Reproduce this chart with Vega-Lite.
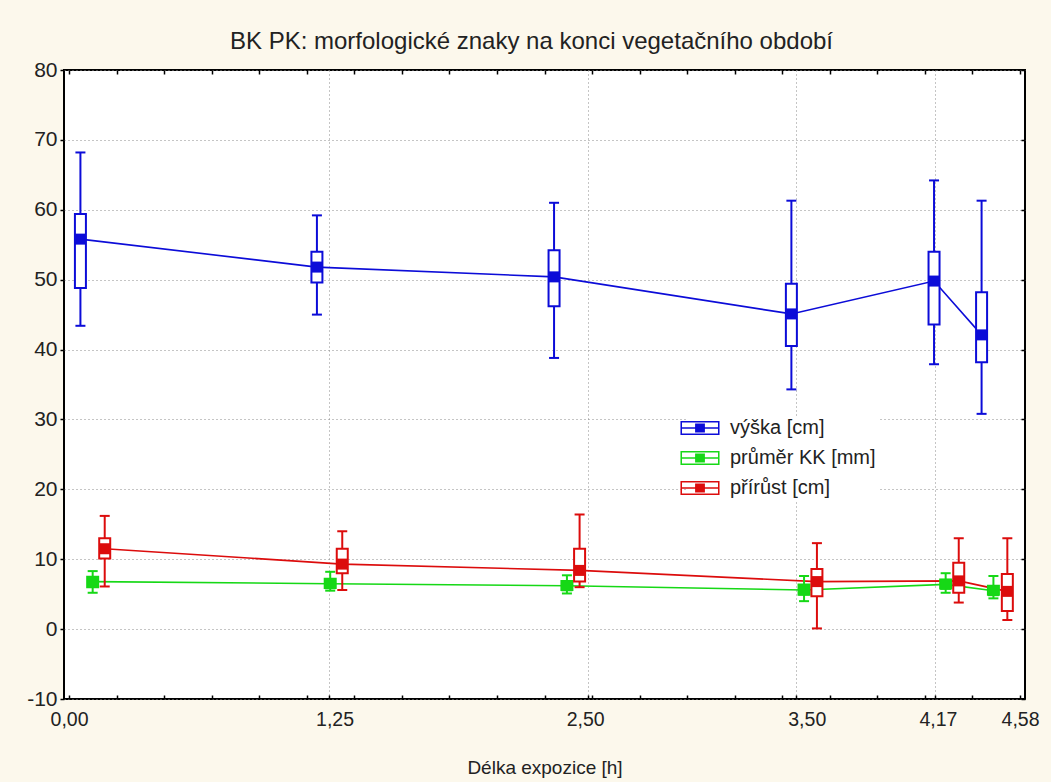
{
  "$schema": "https://vega.github.io/schema/vega-lite/v6.json",
  "width": 961,
  "height": 629,
  "autosize": "none",
  "padding": {"left": 64, "top": 70, "right": 26, "bottom": 83},
  "background": "#fcf8ec",
  "title": {
    "text": "BK PK: morfologické znaky na konci vegetačního období",
    "font": "Liberation Sans",
    "fontSize": 24,
    "fontWeight": "normal",
    "color": "#222222",
    "offset": 5,
    "dx": -13
  },
  "config": {
    "view": {"fill": "white", "stroke": "#000000", "strokeWidth": 2},
    "font": "Liberation Sans"
  },
  "resolve": {"legend": {"color": "independent"}},
  "data": {
    "values": [
      {"s": "výška [cm]", "x": 0.055, "lo": 43.4, "q1": 48.8, "m": 55.8, "q3": 59.4, "hi": 68.2},
      {"s": "výška [cm]", "x": 1.194, "lo": 45.0, "q1": 49.6, "m": 51.8, "q3": 54.0, "hi": 59.2},
      {"s": "výška [cm]", "x": 2.336, "lo": 38.8, "q1": 46.2, "m": 50.4, "q3": 54.2, "hi": 61.0},
      {"s": "výška [cm]", "x": 3.479, "lo": 34.3, "q1": 40.5, "m": 45.1, "q3": 49.4, "hi": 61.3},
      {"s": "výška [cm]", "x": 4.166, "lo": 37.9, "q1": 43.6, "m": 49.8, "q3": 54.0, "hi": 64.2},
      {"s": "výška [cm]", "x": 4.395, "lo": 30.8, "q1": 38.2, "m": 42.1, "q3": 48.2, "hi": 61.3},
      {"s": "průměr KK [mm]", "x": 0.114, "lo": 5.2, "q1": 6.0, "m": 6.8, "q3": 7.5, "hi": 8.3},
      {"s": "průměr KK [mm]", "x": 1.258, "lo": 5.5, "q1": 5.9, "m": 6.5, "q3": 7.2, "hi": 8.2},
      {"s": "průměr KK [mm]", "x": 2.398, "lo": 5.1, "q1": 5.6, "m": 6.2, "q3": 6.9, "hi": 7.7},
      {"s": "průměr KK [mm]", "x": 3.54, "lo": 4.0, "q1": 4.9, "m": 5.6, "q3": 6.4, "hi": 7.6},
      {"s": "průměr KK [mm]", "x": 4.222, "lo": 5.2, "q1": 5.8, "m": 6.4, "q3": 7.1, "hi": 8.0},
      {"s": "průměr KK [mm]", "x": 4.452, "lo": 4.4, "q1": 4.9, "m": 5.5, "q3": 6.2, "hi": 7.6},
      {"s": "přírůst [cm]", "x": 0.172, "lo": 6.1, "q1": 10.1, "m": 11.5, "q3": 13.0, "hi": 16.2},
      {"s": "přírůst [cm]", "x": 1.316, "lo": 5.6, "q1": 8.0, "m": 9.3, "q3": 11.5, "hi": 14.0},
      {"s": "přírůst [cm]", "x": 2.459, "lo": 6.0, "q1": 6.8, "m": 8.4, "q3": 11.5, "hi": 16.4},
      {"s": "přírůst [cm]", "x": 3.602, "lo": 0.1, "q1": 4.7, "m": 6.8, "q3": 8.6, "hi": 12.3},
      {"s": "přírůst [cm]", "x": 4.285, "lo": 3.8, "q1": 5.2, "m": 6.9, "q3": 9.5, "hi": 13.0},
      {"s": "přírůst [cm]", "x": 4.519, "lo": 1.3, "q1": 2.6, "m": 5.4, "q3": 7.9, "hi": 13.0}
    ]
  },
  "encoding": {
    "x": {"field": "x", "type": "quantitative", "axis": null, "scale": {"domain": [0, 4.58], "nice": false, "zero": false}},
    "color": {"field": "s", "type": "nominal", "legend": null,
      "scale": {"domain": ["výška [cm]", "průměr KK [mm]", "přírůst [cm]"], "range": ["#0c0cd8", "#16d816", "#dc0c0c"]}}
  },
  "layer": [
    {
      "mark": {"type": "line", "strokeWidth": 1.6},
      "encoding": {
        "y": {"field": "m", "type": "quantitative", "axis": null, "scale": {"domain": [-10, 80], "nice": false, "zero": false}},
        "order": {"field": "x", "type": "quantitative"}
      }
    },
    {
      "mark": {"type": "rule", "strokeWidth": 2},
      "encoding": {
        "x": {"field": "x", "type": "quantitative",
          "axis": {
            "orient": "bottom",
            "values": [0, 0.229, 0.458, 0.687, 0.916, 1.145, 1.25, 1.374, 1.603, 1.832, 2.061, 2.29, 2.5, 2.519, 2.748, 2.977, 3.206, 3.435, 3.5, 3.664, 3.893, 4.122, 4.17, 4.351, 4.58],
            "labelExpr": "indexof([0, 1.25, 2.5, 3.5, 4.17, 4.58], datum.value) >= 0 ? replace(format(datum.value, '.2f'), '.', ',') : ''",
            "labelFlush": false,
            "labelOverlap": false,
            "labelFont": "Liberation Sans",
            "labelFontSize": 19.5,
            "labelColor": "#222222",
            "labelPadding": 15,
            "labelOffset": {
              "condition": [
                {"test": "datum.value === 1.25", "value": 6},
                {"test": "datum.value === 2.5", "value": -3},
                {"test": "datum.value === 3.5", "value": 11},
                {"test": "datum.value === 4.17", "value": 3}
              ],
              "value": 0
            },
            "tickSize": -4,
            "tickColor": "#000000",
            "tickWidth": 1.5,
            "domain": false,
            "grid": true,
            "gridDash": [1, 3],
            "gridColor": "#8a8a8a",
            "gridWidth": 1,
            "gridOpacity": {"condition": {"test": "indexof([1.25, 2.5, 3.5, 4.17], datum.value) >= 0", "value": 1}, "value": 0},
            "title": "Délka expozice [h]",
            "titleFont": "Liberation Sans",
            "titleFontSize": 19,
            "titleFontWeight": "normal",
            "titleColor": "#222222",
            "titlePadding": 30
          }},
        "y": {"field": "lo", "type": "quantitative",
          "axis": {
            "orient": "left",
            "values": [-10, 0, 10, 20, 30, 40, 50, 60, 70, 80],
            "labelExpr": "'' + datum.value",
            "labelFont": "Liberation Sans",
            "labelFontSize": 21,
            "labelColor": "#222222",
            "labelPadding": 3,
            "tickSize": 4,
            "tickColor": "#000000",
            "tickWidth": 1.5,
            "domain": false,
            "grid": true,
            "gridDash": [1, 3],
            "gridColor": "#8a8a8a",
            "gridWidth": 1,
            "title": null
          }},
        "y2": {"field": "hi"}
      }
    },
    {
      "mark": {"type": "point", "shape": "M-1,0L1,0", "size": 100, "strokeWidth": 2, "filled": false, "opacity": 1},
      "encoding": {
        "x": {"field": "x", "type": "quantitative",
          "axis": {
            "orient": "top",
            "values": [0, 0.229, 0.458, 0.687, 0.916, 1.145, 1.374, 1.603, 1.832, 2.061, 2.29, 2.519, 2.748, 2.977, 3.206, 3.435, 3.664, 3.893, 4.122, 4.351, 4.58],
            "labels": false,
            "tickSize": -4,
            "tickColor": "#000000",
            "tickWidth": 1.5,
            "domain": false,
            "grid": false,
            "title": null
          }},
        "y": {"field": "hi", "type": "quantitative",
          "axis": {
            "orient": "right",
            "values": [-10, 0, 10, 20, 30, 40, 50, 60, 70, 80],
            "labels": false,
            "tickSize": -4,
            "tickColor": "#000000",
            "tickWidth": 1.5,
            "domain": false,
            "grid": false,
            "title": null
          }}
      }
    },
    {
      "mark": {"type": "point", "shape": "M-1,0L1,0", "size": 100, "strokeWidth": 2, "filled": false, "opacity": 1},
      "encoding": {
        "y": {"field": "lo", "type": "quantitative", "axis": null}
      }
    },
    {
      "mark": {"type": "bar", "orient": "vertical", "size": 11, "filled": false, "fill": "white", "strokeWidth": 2},
      "encoding": {
        "y": {"field": "q1", "type": "quantitative", "axis": null},
        "y2": {"field": "q3"}
      }
    },
    {
      "mark": {"type": "point", "shape": "square", "size": 121, "filled": true, "opacity": 1, "strokeWidth": 0},
      "encoding": {
        "y": {"field": "m", "type": "quantitative", "axis": null},
        "color": {"field": "s", "type": "nominal",
          "scale": {"domain": ["výška [cm]", "průměr KK [mm]", "přírůst [cm]"], "range": ["#0c0cd8", "#16d816", "#dc0c0c"]},
          "legend": {
            "orient": "none",
            "legendX": 624,
            "legendY": 346,
            "title": null,
            "symbolType": "M-2.79,-1L2.79,-1L2.79,1L-2.79,1ZM-2.57,-0.79L-2.57,0.79L2.57,0.79L2.57,-0.79ZM-2.57,-0.11L2.57,-0.11L2.57,0.11L-2.57,0.11ZM-0.7,-0.65L0.7,-0.65L0.7,0.65L-0.7,0.65Z",
            "symbolSize": 196,
            "symbolStrokeWidth": 0,
            "symbolOpacity": 1,
            "labelFont": "Liberation Sans",
            "labelFontSize": 20,
            "labelColor": "#222222",
            "labelOffset": 20,
            "rowPadding": 10,
            "padding": 2,
            "fillColor": "white"
          }}
      }
    }
  ]
}
